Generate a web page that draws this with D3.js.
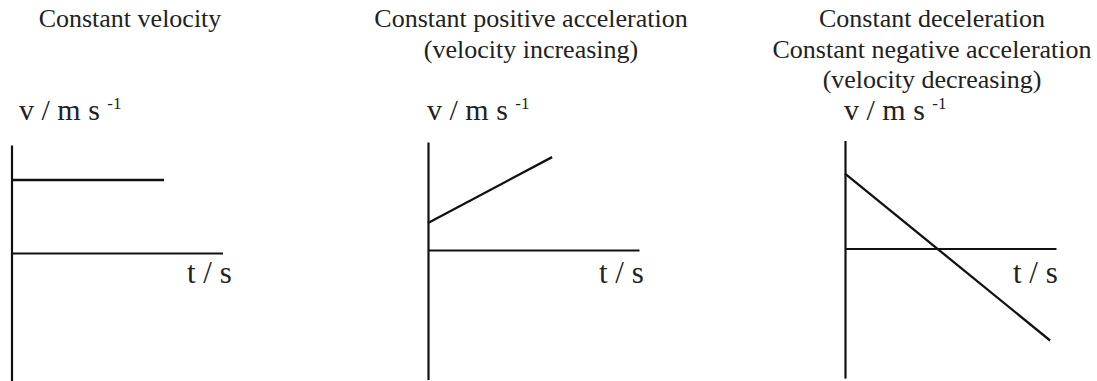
<!DOCTYPE html>
<html>
<head>
<meta charset="utf-8">
<script src="https://cdn.jsdelivr.net/npm/d3@7"></script>
<style>
  html, body { margin: 0; padding: 0; background: #fff; }
  svg { display: block; }
  text { font-family: "Liberation Serif", "Times New Roman", serif; fill: #222; }
</style>
</head>
<body>
<script>
// Velocity–time sketches for three kinds of motion
const panelTitles = [
  ["Constant velocity"],
  ["Constant positive acceleration", "(velocity increasing)"],
  ["Constant deceleration", "Constant negative acceleration", "(velocity decreasing)"]
];
const yAxisLabel = "v / m s";
const yAxisUnitPower = "-1";
const xAxisLabel = "t / s";

const timeDomain = [0, 10];
const velocityDomain = [-6, 5];

// Each graph is one straight segment: (startTime, startVelocity) -> (endTime, endVelocity)
const startTimes = [0, 0, 0];
const endTimes = [7.23, 5.88, 9.72];
const startVelocities = [3.38, 1.25, 3.47];
const endVelocities = [3.38, 4.3, -4.26];

const W = 1097, H = 381;
// Pixel origin of each graph and title centre
const layout = [
  { ox: 11.5, oy: 253, titleX: 130, labelX: 19, tsX: 187 },
  { ox: 428, oy: 250, titleX: 531, labelX: 427, tsX: 599 },
  { ox: 845, oy: 248.5, titleX: 932, labelX: 844, tsX: 1013 }
];
const xSpan = 211;      // pixels for the full time domain
const unitY = 21.6;     // pixels per velocity unit

const svg = d3.select("body").append("svg")
  .attr("width", W).attr("height", H);

panelTitles.forEach((lines, i) => {
  const L = layout[i];
  const x = d3.scaleLinear().domain(timeDomain).range([L.ox, L.ox + xSpan]);
  const y = d3.scaleLinear().domain(velocityDomain)
    .range([L.oy - velocityDomain[0] * unitY, L.oy - velocityDomain[1] * unitY]);

  const g = svg.append("g");

  // title lines
  g.selectAll("text.title").data(lines).join("text")
    .attr("class", "title")
    .attr("x", L.titleX)
    .attr("y", (d, k) => 27 + k * 30.5)
    .attr("text-anchor", "middle")
    .attr("font-size", 26)
    .text(d => d);

  // axes without ticks
  const xAxis = d3.axisBottom(x).tickValues([]).tickSizeOuter(0);
  const yAxis = d3.axisLeft(y).tickValues([]).tickSizeOuter(0);
  g.append("g").attr("transform", `translate(0,${y(0)})`).call(xAxis)
    .select(".domain").attr("stroke", "#111").attr("stroke-width", 2.2);
  g.append("g").attr("transform", `translate(${x(0)},0)`).call(yAxis)
    .select(".domain").attr("stroke", "#111").attr("stroke-width", 2.2);

  // axis labels
  const vl = g.append("text")
    .attr("x", L.labelX).attr("y", 120)
    .attr("font-size", 30);
  vl.append("tspan").text(yAxisLabel + " ");
  vl.append("tspan").attr("font-size", 17).attr("dy", -11).text(yAxisUnitPower);

  g.append("text")
    .attr("x", L.tsX).attr("y", 283)
    .attr("font-size", 31)
    .text(xAxisLabel);

  // the v–t segment
  const pts = [[startTimes[i], startVelocities[i]], [endTimes[i], endVelocities[i]]];
  g.append("path")
    .datum(pts)
    .attr("fill", "none")
    .attr("stroke", "#111")
    .attr("stroke-width", 2.3)
    .attr("d", d3.line().x(d => x(d[0])).y(d => y(d[1])));
});
</script>
</body>
</html>
